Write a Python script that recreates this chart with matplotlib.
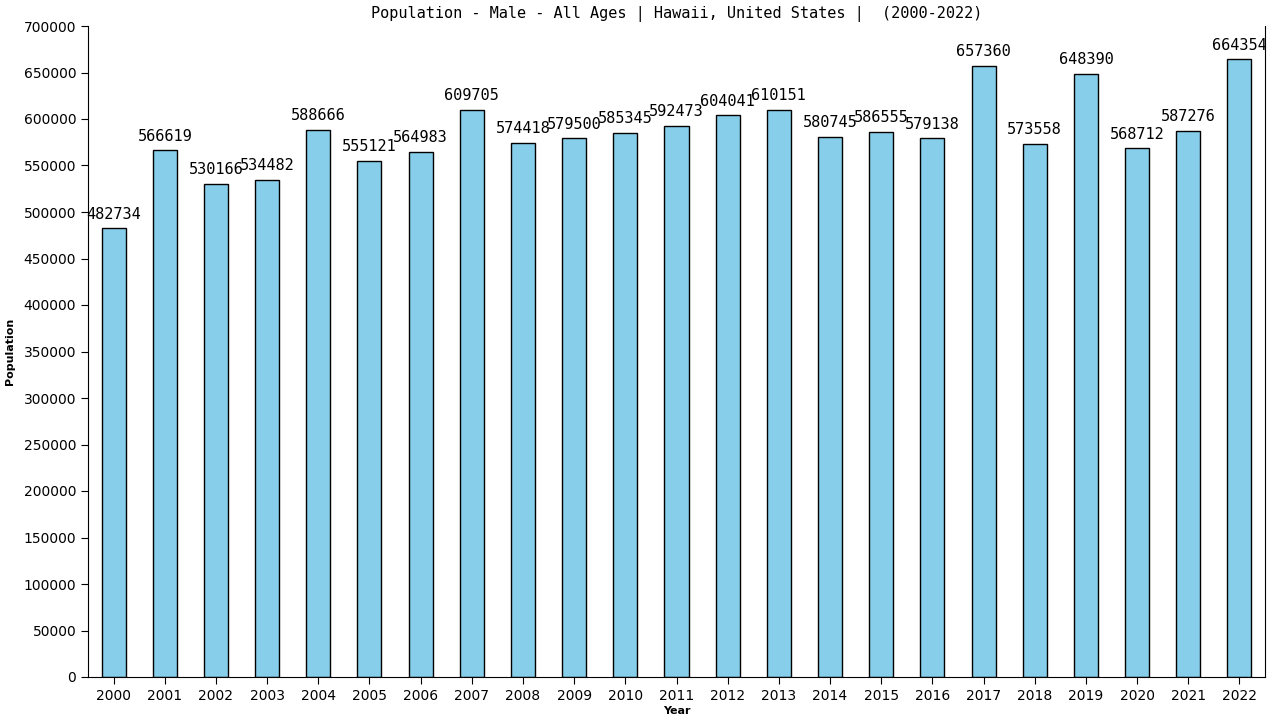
import matplotlib
matplotlib.use("Agg")
import matplotlib.pyplot as plt

years = list(range(2000, 2023))
population = [482734, 566619, 530166, 534482, 588666, 555121, 564983, 609705,
              574418, 579500, 585345, 592473, 604041, 610151, 580745, 586555,
              579138, 657360, 573558, 648390, 568712, 587276, 664354]

fig = plt.figure(figsize=(12.8, 7.2), dpi=100)
ax = fig.add_axes([88 / 1280, 43 / 720, (1265 - 88) / 1280, (677 - 26) / 720])

pos = list(range(len(years)))
ax.bar(pos, population, width=0.47, color="#87ceeb", edgecolor="black", linewidth=1)

for x, v in zip(pos, population):
    ax.text(x, v + 7000, str(v), ha="center", va="bottom",
            fontsize=11, family="DejaVu Sans Mono")

ax.set_xlim(-0.5, 22.5)
ax.set_ylim(0, 700000)
ax.set_yticks(range(0, 700001, 50000))
ax.set_xticks(pos)
ax.set_xticklabels([str(y) for y in years])
ax.tick_params(labelsize=10, length=5)

ax.spines["top"].set_visible(False)

ax.set_title("Population - Male - All Ages | Hawaii, United States |  (2000-2022)",
             fontsize=11, family="DejaVu Sans Mono", pad=6)
ax.set_xlabel("Year", fontsize=8, fontweight="bold", labelpad=2)
ax.set_ylabel("Population", fontsize=8, fontweight="bold", labelpad=6)

fig.savefig("out.png", dpi=100)
